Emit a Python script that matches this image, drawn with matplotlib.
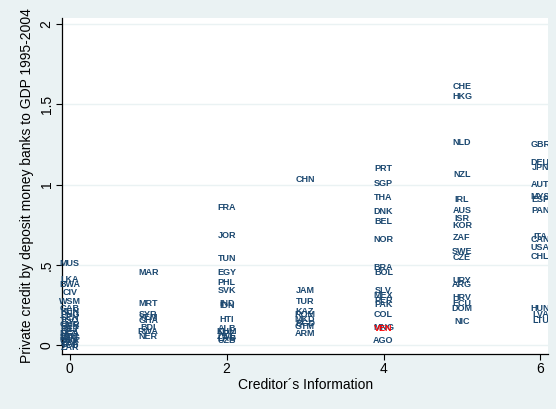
import numpy as np
import matplotlib.pyplot as plt

# country codes grouped by creditor information index
codes_0 = ["MUS", "LKA", "BWA", "CIV", "WSM", "GAB", "KEN", "PNG", "SEN", "TGO",
           "CMR", "BEN", "MLI", "BFA", "NGA", "ETH", "MDG", "GIN", "UGA", "TZA",
           "CAF", "TCD", "ZAR"]
credit_0 = [0.51, 0.41, 0.375, 0.33, 0.27, 0.23, 0.21, 0.19, 0.17, 0.15,
            0.13, 0.115, 0.10, 0.085, 0.07, 0.055, 0.045, 0.035, 0.025, 0.015,
            0.005, -0.005, -0.015]

codes_1 = ["MAR", "MRT", "SYR", "YEM", "GHA", "BDI", "RWA", "NER"]
credit_1 = [0.45, 0.26, 0.19, 0.17, 0.155, 0.11, 0.085, 0.05]

codes_2 = ["FRA", "JOR", "TUN", "EGY", "PHL", "SVK", "IND", "IDN", "HTI",
           "ALB", "KHM", "NPL", "ZWE", "LAO", "UZB"]
credit_2 = [0.86, 0.68, 0.54, 0.45, 0.39, 0.34, 0.26, 0.245, 0.16,
            0.10, 0.085, 0.07, 0.055, 0.04, 0.03]

codes_3 = ["CHN", "JAM", "TUR", "KAZ", "ROM", "MKD", "BGD", "GTM", "ARM"]
credit_3 = [1.03, 0.34, 0.27, 0.21, 0.19, 0.16, 0.135, 0.115, 0.07]

codes_4 = ["PRT", "SGP", "THA", "DNK", "BEL", "NOR", "BRA", "BOL", "SLV",
           "MEX", "PER", "PAK", "COL", "MNG", "VEN", "AGO"]
credit_4 = [1.10, 1.01, 0.92, 0.83, 0.77, 0.66, 0.485, 0.455, 0.34,
            0.31, 0.275, 0.25, 0.19, 0.11, 0.105, 0.03]

codes_5 = ["CHE", "HKG", "NLD", "NZL", "IRL", "AUS", "ISR", "KOR", "ZAF",
           "SWE", "CZE", "URY", "ARG", "HRV", "ECU", "DOM", "NIC"]
credit_5 = [1.61, 1.55, 1.26, 1.06, 0.905, 0.84, 0.79, 0.745, 0.67,
            0.58, 0.545, 0.405, 0.375, 0.295, 0.26, 0.225, 0.145]

codes_6 = ["GBR", "DEU", "JPN", "AUT", "MYS", "ESP", "PAN", "ITA", "CAN",
           "USA", "CHL", "HUN", "LVA", "LTU"]
credit_6 = [1.25, 1.14, 1.105, 1.0, 0.925, 0.905, 0.84, 0.675, 0.655,
            0.605, 0.55, 0.225, 0.19, 0.155]

highlight = "VEN"

x_ticks = [0, 2, 4, 6]
y_ticks = [0, 0.5, 1, 1.5, 2]
y_ticklabels = ["0", ".5", "1", "1.5", "2"]

bg = "#eaf2f3"
navy = "#1a476f"

plt.rcParams['font.family'] = ['Liberation Sans', 'DejaVu Sans']

fig = plt.figure(figsize=(5.56, 4.09), dpi=100, facecolor=bg)
ax = fig.add_axes([0.1115, 0.1345, 0.8745, 0.822])
ax.set_facecolor("white")

groups = [codes_0, codes_1, codes_2, codes_3, codes_4, codes_5, codes_6]
values = [credit_0, credit_1, credit_2, credit_3, credit_4, credit_5, credit_6]
for info, (codes, vals) in enumerate(zip(groups, values)):
    for c, v in zip(codes, vals):
        hl = c == highlight
        # only the last column gets cut at the plot edge
        ax.text(info, v, c, ha="center", va="center", fontsize=6.5,
                fontweight="bold", color="red" if hl else navy,
                clip_on=(info == 6), zorder=4 if hl else 3)

ax.set_xlim(-0.1, 6.1)
ax.set_ylim(-0.056, 2.04)
ax.set_xticks(x_ticks)
ax.set_yticks(y_ticks)
ax.set_yticklabels(y_ticklabels, rotation=90, va="center")
ax.yaxis.grid(True, color=bg, lw=1.0, zorder=0)
ax.set_axisbelow(True)

for s in ["top", "right"]:
    ax.spines[s].set_visible(False)
for s in ["left", "bottom"]:
    ax.spines[s].set_linewidth(0.9)
ax.tick_params(direction="out", length=4, width=0.8, labelsize=10, pad=2)

ax.set_xlabel("Creditor´s Information", fontsize=10, labelpad=1)
ax.set_ylabel("Private credit by deposit money banks to GDP 1995-2004",
              fontsize=10, labelpad=4)

fig.savefig("out.png", dpi=100, facecolor=bg)
